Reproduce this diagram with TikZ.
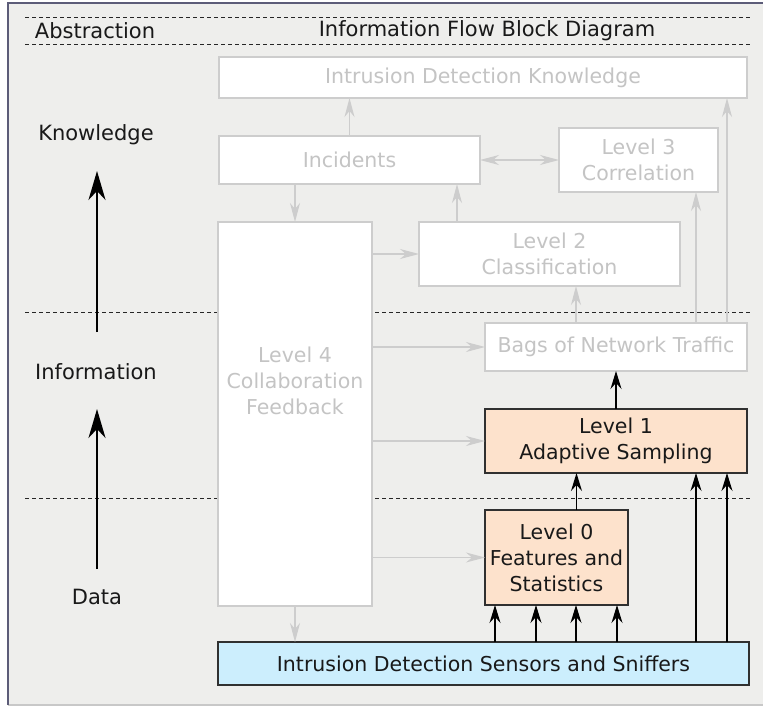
\documentclass[tikz,border=0pt]{standalone}
\usepackage{fontspec}
\setmainfont{DejaVu Sans}
\usetikzlibrary{arrows.meta}

\definecolor{panel}{HTML}{EEEEEC}
\definecolor{paneledge}{HTML}{5C5C78}
\definecolor{paneledgelight}{HTML}{C8C8C8}
\definecolor{faintline}{HTML}{CDCDCD}
\definecolor{fainttext}{HTML}{C4C4C4}
\definecolor{peach}{HTML}{FDE2CC}
\definecolor{skyblue}{HTML}{CCEEFD}
\definecolor{darkline}{HTML}{303030}

\tikzset{
  boxfont/.style={font=\fontsize{20.5}{26}\selectfont},
  headfont/.style={font=\fontsize{21}{26}\selectfont},
  faintbox/.style={draw=faintline, fill=white, line width=1.4pt, text=fainttext,
    inner sep=0pt, outer sep=0pt, align=center, boxfont},
  activebox/.style={draw=darkline, fill=peach, line width=1.4pt, text=black!90,
    inner sep=0pt, outer sep=0pt, align=center, boxfont},
  sensorbox/.style={activebox, fill=skyblue},
  faintarrow/.style={draw=faintline, line width=1.4pt,
    -{Stealth[length=19pt, width=10pt, inset=6pt]}},
  faintboth/.style={faintarrow, {Stealth[length=19pt, width=10pt, inset=6pt]}-{Stealth[length=19pt, width=10pt, inset=6pt]}},
  darkarrow/.style={draw=black, line width=1.4pt,
    -{Stealth[length=18pt, width=11pt, inset=6pt]}},
  levelarrow/.style={draw=black, line width=2pt,
    -{Stealth[length=29pt, width=17pt, inset=9pt]}},
  separator/.style={draw=black!85, line width=1pt, dash pattern=on 4pt off 3pt},
  sidelabel/.style={headfont, text=black!90}
}

\begin{document}
\begin{tikzpicture}[x=1pt, y=-1pt]
\useasboundingbox (0,0) rectangle (763,706);

% panel
\fill[panel] (8,3) rectangle (763,705);
\draw[paneledgelight, line width=1.2pt] (8,705) -- (763,705);
\draw[paneledge, line width=1.2pt] (8,705) -- (8,3) -- (763,3);

% abstraction separators
\draw[separator] (25,18) -- (750,18);
\draw[separator] (25,45) -- (750,45);
\draw[separator] (25,312) -- (750,312);
\draw[separator] (25,498) -- (750,498);

% headings
\node[sidelabel] (hAbs) at (95,31) {Abstraction};
\node[sidelabel] (hFlow) at (487,31) {Information Flow Block Diagram};

% abstraction levels
\node[sidelabel] (know) at (96,135) {Knowledge};
\node[sidelabel] (info) at (96,372) {Information};
\node[sidelabel] (data) at (97,597) {Data};
\coordinate (kTail) at (97,332);
\coordinate (kTip) at (97,171);
\coordinate (iTail) at (97,569);
\coordinate (iTip) at (97,409);
\draw[levelarrow] (kTail) -- (kTip);
\draw[levelarrow] (iTail) -- (iTip);

% blocks
\node[faintbox, minimum width=528pt, minimum height=41pt] (idk) at (483,77.5)
  {Intrusion Detection Knowledge};
\node[faintbox, minimum width=261pt, minimum height=48pt] (inc) at (349.5,160)
  {Incidents};
\node[faintbox, minimum width=159pt, minimum height=64pt] (l3) at (638.5,160)
  {Level 3\\Correlation};
\node[faintbox, minimum width=261pt, minimum height=64pt] (l2) at (549.5,254)
  {Level 2\\Classification};
\node[faintbox, minimum width=154pt, minimum height=384pt] (l4) at (295,414) {};
\node[boxfont, text=fainttext, align=center] (l4text) at (295,381)
  {Level 4\\Collaboration\\Feedback};
\node[faintbox, minimum width=262pt, minimum height=48pt] (bags) at (616,347)
  {Bags of Network Traffic};
\node[activebox, minimum width=262pt, minimum height=64pt] (l1) at (616,441)
  {Level 1\\Adaptive Sampling};
\node[activebox, minimum width=143pt, minimum height=95pt] (l0) at (556.5,557.5)
  {Level 0\\Features and\\Statistics};
\node[sensorbox, minimum width=531pt, minimum height=43pt] (sens) at (483.5,663.5)
  {Intrusion Detection Sensors and Sniffers};

% faint information flow
\draw[faintarrow] (inc.north) -- (inc.north |- idk.south);
\draw[faintarrow] ([xshift=111pt]bags.north) -- ([xshift=111pt]bags.north |- idk.south);
\draw[faintarrow] ([xshift=80pt]bags.north) -- ([xshift=80pt]bags.north |- l3.south);
\draw[faintarrow] ([xshift=-40pt]bags.north) -- ([xshift=-40pt]bags.north |- l2.south);
\draw[faintarrow] ([xshift=-92.5pt]l2.north) -- ([xshift=-92.5pt]l2.north |- inc.south);
\draw[faintboth] (inc.east) -- (l3.west);
\draw[faintarrow] (inc.south -| l4.north) -- (l4.north);
\draw[faintarrow] (l4.east |- l2.west) -- (l2.west);
\draw[faintarrow] (l4.east |- bags.west) -- (bags.west);
\draw[faintarrow] (l4.east |- l1.west) -- (l1.west);
\draw[faintarrow] (l4.east |- l0.west) -- (l0.west);
\draw[faintarrow] (l4.south) -- (l4.south |- sens.north);

% active data flow
\draw[darkarrow] (l1.north) -- (bags.south);
\draw[darkarrow] ([xshift=20pt]l0.north) -- ([xshift=20pt]l0.north |- l1.south);
\foreach \dx in {-61.5,-20.5,19.5,60.5}
  \draw[darkarrow] ([xshift=\dx pt]l0.south |- sens.north) -- ([xshift=\dx pt]l0.south);
\foreach \dx in {80,111}
  \draw[darkarrow] ([xshift=\dx pt]l1.south |- sens.north) -- ([xshift=\dx pt]l1.south);
\end{tikzpicture}
\end{document}
